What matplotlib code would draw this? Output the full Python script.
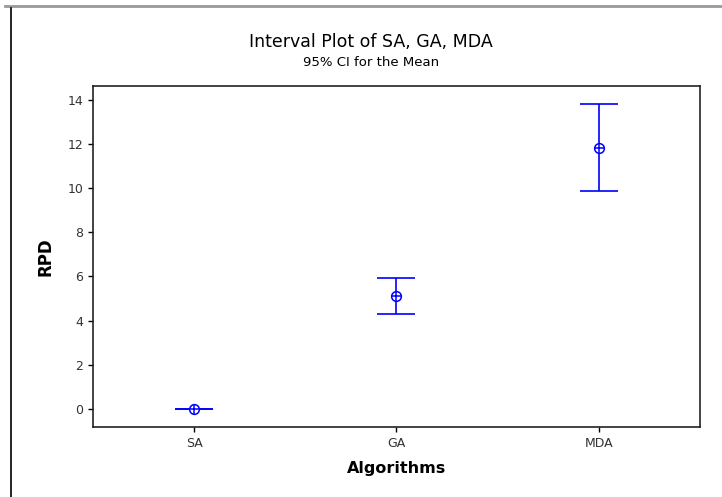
import matplotlib
matplotlib.use('Agg')
import matplotlib.pyplot as plt
from matplotlib.lines import Line2D
import numpy as np

# --- data ---
algorithms = ['SA', 'GA', 'MDA']
means = [0.0, 5.12, 11.83]
lower = [0.0, 4.30, 9.87]
upper = [0.0, 5.94, 13.82]

BLUE = '#0000ff'

fig = plt.figure(figsize=(7.22, 4.97), dpi=100)
ax = fig.add_axes([0.1288, 0.1408, 0.8407, 0.6862])

x = np.arange(1, len(algorithms) + 1)
m = np.array(means)
yerr = [m - np.array(lower), np.array(upper) - m]

ax.errorbar(x, m, yerr=yerr, fmt='none', ecolor=BLUE, elinewidth=1.2,
            capsize=14, capthick=1.2)
ax.plot(x, m, linestyle='none', marker='o', markersize=7,
        markerfacecolor='white', markeredgecolor=BLUE, markeredgewidth=1.1)
ax.plot(x, m, linestyle='none', marker='+', markersize=7,
        markeredgecolor=BLUE, markeredgewidth=1.1)

ax.set_xlim(0.5, 3.5)
ax.set_ylim(-0.82, 14.63)
ax.set_xticks(x)
ax.set_xticklabels(algorithms)
ax.set_yticks(np.arange(0, 15, 2))
ax.tick_params(direction='out', length=3.5, width=1, labelsize=9,
               labelcolor='#333333', top=False, right=False)
for s in ax.spines.values():
    s.set_linewidth(1.2)
    s.set_color('#222222')

ax.set_ylabel('RPD', fontsize=12, fontweight='bold', labelpad=9)
ax.set_xlabel('Algorithms', fontsize=11.5, fontweight='bold', labelpad=8)

fig.text(371 / 722, 1 - 42 / 497, 'Interval Plot of SA, GA, MDA',
         ha='center', va='center', fontsize=12.5)
fig.text(371 / 722, 1 - 63 / 497, '95% CI for the Mean',
         ha='center', va='center', fontsize=9.5)

# window frame lines
fig.add_artist(Line2D([5 / 722, 1], [1 - 6 / 497] * 2, color='#999999', lw=2))
fig.add_artist(Line2D([11 / 722] * 2, [0, 1 - 8 / 497], color='black', lw=1.2))

fig.savefig('out.png', dpi=100)
